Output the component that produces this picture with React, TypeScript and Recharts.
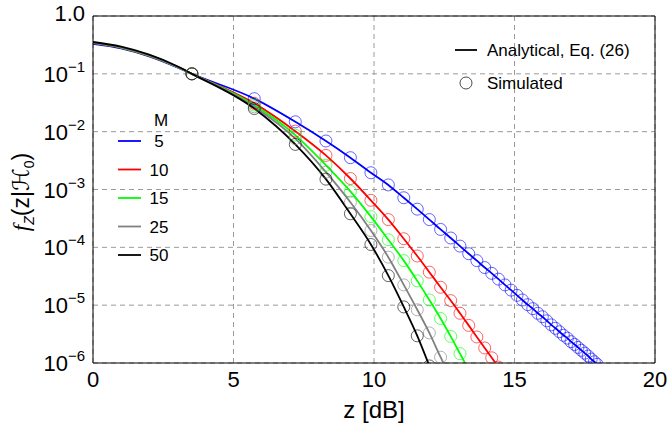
import React from 'react';
import {
    ComposedChart,
    Line,
    Scatter,
    XAxis,
    YAxis,
    CartesianGrid,
    ReferenceLine,
} from 'recharts';

const FONT = '"Liberation Sans", Arial, Helvetica, sans-serif';

// z positions [dB]
const zHead = [0, 1, 2, 3];
const zSim = [
    3.52, 5.74, 7.2, 8.29, 9.16, 9.89, 10.51, 11.06, 11.54, 11.97, 12.37, 12.73, 13.06, 13.37,
    13.66, 13.94, 14.19, 14.43, 14.66, 14.88, 15.09, 15.28, 15.47, 15.65, 15.83, 15.99, 16.15,
    16.31, 16.46, 16.6, 16.74, 16.88, 17.01, 17.14, 17.26, 17.38, 17.5, 17.62, 17.73, 17.84, 17.94,
];

// analytical curve start (z = 0..3)
const headM5 = [0.33, 0.275, 0.2, 0.129];
const headM10 = [0.339, 0.282, 0.204, 0.132];
const headM15 = [0.343, 0.285, 0.207, 0.132];
const headM25 = [0.347, 0.288, 0.209, 0.132];
const headM50 = [0.355, 0.295, 0.214, 0.135];

// simulated points at zSim
const simM5 = [
    0.1, 3.72e-2, 1.48e-2, 6.9e-3, 3.55e-3, 1.95e-3, 1.2e-3, 7.2e-4, 4.57e-4, 3.02e-4, 2.04e-4,
    1.45e-4, 1.05e-4, 7.76e-5, 5.89e-5, 4.47e-5, 3.55e-5, 2.82e-5, 2.24e-5, 1.82e-5, 1.48e-5,
    1.23e-5, 1.02e-5, 8.71e-6, 7.24e-6, 6.31e-6, 5.37e-6, 4.57e-6, 3.98e-6, 3.47e-6, 3.02e-6,
    2.69e-6, 2.34e-6, 2.09e-6, 1.86e-6, 1.66e-6, 1.48e-6, 1.32e-6, 1.17e-6, 1.05e-6, 9.5e-7,
];
const simM10 = [
    0.1, 3.09e-2, 1.02e-2, 3.89e-3, 1.55e-3, 6.5e-4, 3.02e-4, 1.41e-4, 7.08e-5, 3.72e-5, 2.04e-5,
    1.2e-5, 7.24e-6, 4.47e-6, 2.82e-6, 1.82e-6, 1.23e-6, 8.5e-7,
];
const simM15 = [
    0.1, 2.88e-2, 8.71e-3, 2.63e-3, 9.3e-4, 3.39e-4, 1.35e-4, 5.89e-5, 2.63e-5, 1.23e-5, 5.89e-6,
    2.88e-6, 1.45e-6, 7.6e-7,
];
const simM25 = [
    0.1, 2.69e-2, 7.59e-3, 2.0e-3, 6.03e-4, 1.95e-4, 6.76e-5, 2.24e-5, 8.32e-6, 3.31e-6, 1.26e-6,
    5.6e-7,
];
const simM50 = [0.1, 2.51e-2, 6.03e-3, 1.51e-3, 3.8e-4, 1.12e-4, 3.24e-5, 9.33e-6, 2.95e-6, 8.9e-7];

const xTicks = [0, 5, 10, 15, 20];
const yTicks = [1e-6, 1e-5, 1e-4, 1e-3, 1e-2, 1e-1, 1];

const toRows = (zs: number[], ys: number[]) => ys.map((y, i) => ({ z: zs[i], y }));

const SERIES = [
    { label: '5', color: '#0000ff', head: headM5, sim: simM5 },
    { label: '10', color: '#ff0000', head: headM10, sim: simM10 },
    { label: '15', color: '#00ff00', head: headM15, sim: simM15 },
    { label: '25', color: '#808080', head: headM25, sim: simM25 },
    { label: '50', color: '#000000', head: headM50, sim: simM50 },
].map((s) => ({
    ...s,
    line: toRows([...zHead, ...zSim], [...s.head, ...s.sim]),
    points: toRows(zSim, s.sim),
}));

function YTick({ x, y, payload }: any) {
    const v = payload.value;
    if (v === 1) {
        return (
            <text x={x} y={y} dy={5} textAnchor="end" fontSize={22} fontFamily={FONT} fill="#000">
                1.0
            </text>
        );
    }
    const exp = Math.round(Math.log10(v));
    return (
        <text x={x} y={y} textAnchor="end" fontFamily={FONT} fill="#000">
            <tspan fontSize={22} dy={8}>10</tspan>
            <tspan fontSize={15} dy={-10}>{`\u2212${-exp}`}</tspan>
        </text>
    );
}

function XTick({ x, y, payload }: any) {
    return (
        <text x={x} y={y} dy={16} textAnchor="middle" fontSize={22} fontFamily={FONT} fill="#000">
            {payload.value}
        </text>
    );
}

export default function App() {
    return (
        <div style={{ position: 'fixed', left: 0, top: 0, width: 668, height: 427, background: '#fff' }}>
            <ComposedChart width={668} height={427} margin={{ top: 16, right: 13, bottom: 0, left: 0 }}>
                <CartesianGrid strokeDasharray="5 4" stroke="#9a9a9a" />
                <XAxis
                    type="number"
                    dataKey="z"
                    domain={[0, 20]}
                    ticks={xTicks}
                    allowDataOverflow
                    height={64}
                    tickLine={false}
                    axisLine={{ stroke: '#000' }}
                    tick={<XTick />}
                />
                <YAxis
                    type="number"
                    dataKey="y"
                    scale="log"
                    domain={[1e-6, 1]}
                    ticks={yTicks}
                    allowDataOverflow
                    width={93}
                    tickLine={false}
                    axisLine={{ stroke: '#000' }}
                    tick={<YTick />}
                />
                <ReferenceLine y={1} stroke="#000" />
                <ReferenceLine x={20} stroke="#000" />
                {SERIES.map((s) => (
                    <Line
                        key={`line-${s.label}`}
                        data={s.line}
                        dataKey="y"
                        type="monotone"
                        stroke={s.color}
                        strokeWidth={1.8}
                        dot={false}
                        isAnimationActive={false}
                    />
                ))}
                {SERIES.map((s) => (
                    <Scatter
                        key={`sim-${s.label}`}
                        data={s.points}
                        dataKey="y"
                        isAnimationActive={false}
                        shape={(p: any) => (
                            <circle
                                cx={p.cx}
                                cy={p.cy}
                                r={6}
                                fill="none"
                                stroke={s.color}
                                strokeOpacity={0.6}
                                strokeWidth={1}
                            />
                        )}
                    />
                ))}
            </ComposedChart>

            <svg
                width={668}
                height={427}
                style={{ position: 'absolute', left: 0, top: 0, pointerEvents: 'none' }}
                fontFamily={FONT}
            >
                {/* y label */}
                <text transform="translate(29,192) rotate(-90)" textAnchor="middle" fontSize={23} fill="#000">
                    <tspan fontFamily='"Liberation Serif", serif' fontStyle="italic">f</tspan>
                    <tspan fontSize={14} fontStyle="italic" dy={5}>Z</tspan>
                    <tspan dy={-5}>(z|</tspan>
                    <tspan fontFamily='"DejaVu Sans", sans-serif'>{'\u210B'}</tspan>
                    <tspan fontSize={14} dy={5}>0</tspan>
                    <tspan dy={-5}>)</tspan>
                </text>
                {/* x label */}
                <text x={374} y={418} textAnchor="middle" fontSize={24} fill="#000">
                    z [dB]
                </text>

                {/* M legend */}
                <text x={161} y={126} textAnchor="middle" fontSize={17} fill="#000">M</text>
                {SERIES.map((s, i) => (
                    <g key={`leg-${s.label}`}>
                        <line x1={118} x2={141} y1={141 + i * 28.5} y2={141 + i * 28.5} stroke={s.color} strokeWidth={1.8} />
                        <text x={159} y={147 + i * 28.5} textAnchor="middle" fontSize={17} fill="#000">
                            {s.label}
                        </text>
                    </g>
                ))}

                {/* series type legend */}
                <line x1={455} x2={477} y1={50} y2={50} stroke="#000" strokeWidth={1.8} />
                <text x={487} y={56} fontSize={17} fill="#000">Analytical, Eq. (26)</text>
                <circle cx={466} cy={83} r={6} fill="none" stroke="#000" strokeOpacity={0.7} strokeWidth={1} />
                <text x={487} y={89} fontSize={17} fill="#000">Simulated</text>
            </svg>
        </div>
    );
}
